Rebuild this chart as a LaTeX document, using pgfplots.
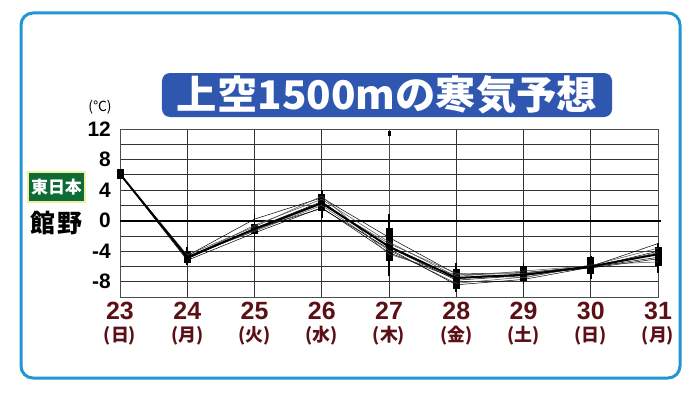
\documentclass[border=0pt]{standalone}
\usepackage{pgfplots}
\pgfplotsset{compat=1.18}
\usepackage{fontspec}
\setmainfont{Liberation Sans}
\newfontfamily\cjk{Noto Sans CJK JP}
\definecolor{framebl}{HTML}{2196D3}
\definecolor{titlebl}{HTML}{2F57B0}
\definecolor{grn}{HTML}{0E6B35}
\definecolor{yel}{HTML}{EEF2A0}
\definecolor{dmaroon}{HTML}{5B1015}
\newcommand{\dw}[1]{{\cjk\bfseries\fontsize{18}{18}\selectfont (#1)}}
\begin{document}
\begin{tikzpicture}[x=1bp,y=1bp]
\fill[white] (0,0) rectangle (700,393);
\useasboundingbox (0,0) rectangle (700,393);
\draw[framebl, line width=3bp, rounded corners=12bp] (21,15) rectangle (680,380);
\node[fill=titlebl, rounded corners=8bp, minimum width=450bp, minimum height=44bp, inner sep=0pt] at (387,298)
  {\resizebox{420bp}{34bp}{\cjk\bfseries\color{white}\fontsize{36}{36}\selectfont 上空1500mの寒気予想}};
\node[fill=grn, draw=yel, line width=1.5bp, minimum width=57bp, minimum height=30bp, inner sep=0pt, text=white] at (56.5,206)
  {\cjk\bfseries\fontsize{17}{17}\selectfont 東日本};
\node[inner sep=0pt] at (56.5,170) {\cjk\bfseries\fontsize{25}{25}\selectfont 館\hspace{2bp}野};
\node[inner sep=0pt] at (100,286) {\cjk\fontsize{14}{14}\selectfont (℃)};
\begin{axis}[
  at={(120bp,96bp)}, anchor=south west, scale only axis,
  width=538bp, height=168bp,
  xmin=23, xmax=31, ymin=-10, ymax=12,
  xtick={23,...,31},
  xticklabels={{23\\[-3bp]\dw{日}},{24\\[-3bp]\dw{月}},{25\\[-3bp]\dw{火}},
               {26\\[-3bp]\dw{水}},{27\\[-3bp]\dw{木}},{28\\[-3bp]\dw{金}},
               {29\\[-3bp]\dw{土}},{30\\[-3bp]\dw{日}},{31\\[-3bp]\dw{月}}},
  xticklabel style={align=center, text=dmaroon, font=\bfseries\fontsize{25}{25}\selectfont, anchor=north, inner sep=0pt, yshift=-5bp},
  ytick={-8,-4,0,4,8,12},
  minor ytick={-10,-6,-2,2,6,10},
  yticklabel style={font=\bfseries\fontsize{21}{21}\selectfont, anchor=east, inner sep=0pt, xshift=-9bp},
  /pgf/number format/assume math mode=true,
  grid=both,
  major grid style={black!80, line width=0.7bp},
  minor grid style={black!80, line width=0.7bp},
  axis line style={black!70, line width=0.7bp},
  tick style={draw=none},
  clip=false,
]
% zero line
\addplot[black, line width=1.8bp] coordinates {(23,0) (31.05,0)};
% whiskers
\addplot[black, line width=1.8bp, unbounded coords=jump] coordinates {
 (24,-5.8) (24,-3.4) (24,nan)
 (25,-2.4) (25,0.9) (25,nan)
 (26,0.4) (26,4.0) (26,nan)
 (27,-7.2) (27,0.9) (27,nan)
 (28,-9.3) (28,-5.5) (28,nan)
 (29,-8.3) (29,-5.5) (29,nan)
 (30,-7.6) (30,-4.6) (30,nan)
 (31,-6.8) (31,-2.9)};
\addplot[black!70, line width=0.8bp] coordinates {(27,0.9) (27,12)};
\addplot[black, line width=3bp] coordinates {(27,11.1) (27,11.8)};
% boxes
\addplot[black, line width=7bp, unbounded coords=jump] coordinates {
 (23,5.5) (23,6.7) (23,nan)
 (24,-5.5) (24,-4.0) (24,nan)
 (25,-1.7) (25,-0.4) (25,nan)
 (26,1.3) (26,3.5) (26,nan)
 (27,-5.3) (27,-0.9) (27,nan)
 (28,-9.0) (28,-6.3) (28,nan)
 (29,-7.9) (29,-5.9) (29,nan)
 (30,-7.0) (30,-4.7) (30,nan)
 (31,-5.9) (31,-3.5)};
% ensemble members
\addplot[black, line width=0.5bp] coordinates {(23,6.1) (24,-4.6) (25,0.2) (26,3.0) (27,-2.2) (28,-7.0) (29,-6.8) (30,-6.0) (31,-3.0)};
\addplot[black!70, line width=0.5bp] coordinates {(23,6.1) (24,-4.9) (25,-0.6) (26,2.8) (27,-2.8) (28,-7.3) (29,-6.6) (30,-5.9) (31,-3.6)};
\addplot[black, line width=0.5bp] coordinates {(23,6.1) (24,-5.0) (25,-1.0) (26,2.5) (27,-3.5) (28,-7.8) (29,-7.2) (30,-6.1) (31,-4.0)};
\addplot[black!70, line width=0.5bp] coordinates {(23,6.1) (24,-4.7) (25,-1.4) (26,2.0) (27,-3.9) (28,-8.2) (29,-7.4) (30,-6.0) (31,-4.4)};
\addplot[black, line width=0.5bp] coordinates {(23,6.1) (24,-5.2) (25,-1.6) (26,1.7) (27,-4.2) (28,-7.6) (29,-7.0) (30,-6.2) (31,-5.0)};
\addplot[black!70, line width=0.5bp] coordinates {(23,6.1) (24,-4.8) (25,-1.3) (26,2.2) (27,-3.0) (28,-6.9) (29,-7.5) (30,-5.8) (31,-5.4)};
\addplot[black, line width=0.5bp] coordinates {(23,6.1) (24,-5.0) (25,-1.1) (26,1.6) (27,-3.7) (28,-8.4) (29,-7.7) (30,-6.1) (31,-4.8)};
\addplot[black!70, line width=0.5bp] coordinates {(23,6.1) (24,-4.5) (25,-0.8) (26,3.2) (27,-4.4) (28,-7.1) (29,-6.9) (30,-6.0) (31,-4.2)};
% ensemble mean
\addplot[black, line width=2bp] coordinates {(23,6.1) (24,-4.8) (25,-1.1) (26,2.3) (27,-3.4) (28,-7.5) (29,-7.1) (30,-6.0) (31,-4.4)};
\end{axis}
\end{tikzpicture}
\end{document}
